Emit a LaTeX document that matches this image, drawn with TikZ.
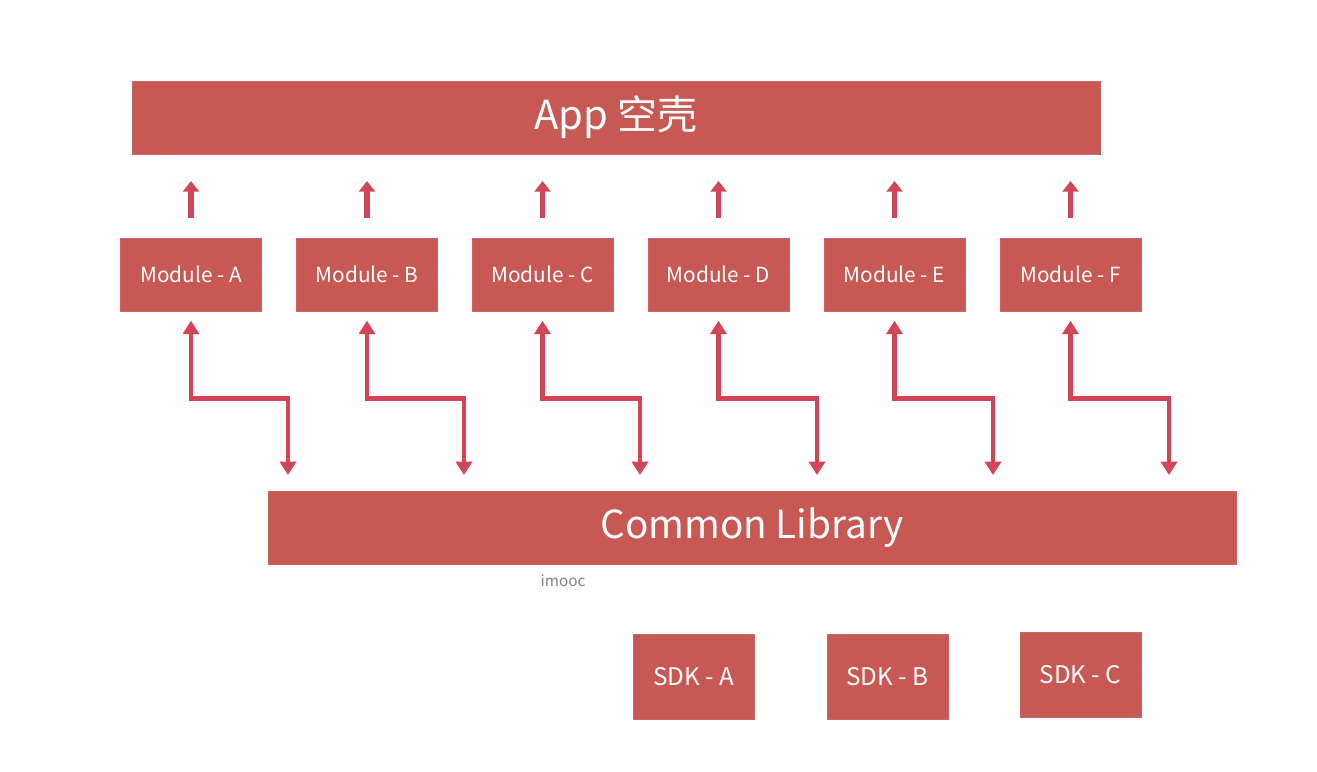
\documentclass[tikz,border=0pt]{standalone}
\usepackage{fontspec}
\setmainfont{Noto Sans CJK SC}
\usetikzlibrary{arrows.meta}
\definecolor{boxred}{RGB}{200,88,84}
\definecolor{boxedge}{RGB}{205,100,100}
\definecolor{arrred}{RGB}{210,68,88}
\definecolor{graytxt}{RGB}{130,130,130}
\tikzset{
  redbox/.style={fill=boxred, draw=boxedge, line width=0.6pt, text=white, inner sep=0pt, align=center},
  bigbox/.style={redbox, minimum width=726pt, minimum height=54.75pt, font=\fontsize{29}{32}\selectfont},
  modbox/.style={redbox, minimum width=105.75pt, minimum height=54.75pt, font=\fontsize{15.6}{18}\selectfont},
  sdkbox/.style={redbox, minimum width=90.75pt, minimum height=63.75pt, font=\fontsize{18.2}{20}\selectfont},
  uparr/.style={draw=arrred, line width=3.8pt, -{Triangle[width=12pt,length=8pt]}, shorten <=15pt, shorten >=20pt},
  biarr/.style={draw=arrred, line width=3.2pt, line join=miter, {Triangle[width=12pt,length=10pt]}-{Triangle[width=12pt,length=10pt]}, shorten <=7pt, shorten >=12pt}
}
\begin{document}
\begin{tikzpicture}[x=0.75pt,y=-0.75pt]
\useasboundingbox (0,0) rectangle (1317,771);
\node[bigbox, font=\fontsize{30}{33}\selectfont] (app) at (616,117.5) {App 空壳};
\node[modbox] (mA) at (191,274.5) {Module - A};
\node[modbox] (mB) at (367,274.5) {Module - B};
\node[modbox] (mC) at (542.5,274.5) {Module - C};
\node[modbox] (mD) at (718.5,274.5) {Module - D};
\node[modbox] (mE) at (894.5,274.5) {Module - E};
\node[modbox] (mF) at (1070.5,274.5) {Module - F};
\node[bigbox] (cl) at (752,527.5) {Common Library};
\node[text=graytxt, font=\fontsize{11.5}{13}\selectfont] (imooc) at (563,581) {imooc};
\node[sdkbox] (sA) at (693.5,676.5) {SDK - A};
\node[sdkbox] (sB) at (887.5,676.5) {SDK - B};
\node[sdkbox] (sC) at (1080.5,674.5) {SDK - C};
\foreach \m in {mA,mB,mC,mD,mE,mF}{
  \draw[uparr] (\m.north) -- (\m.north |- app.south);
}
\coordinate (tA) at (288,491);
\coordinate (tB) at (464,491);
\coordinate (tC) at (640,491);
\coordinate (tD) at (817,491);
\coordinate (tE) at (993,491);
\coordinate (tF) at (1169,491);
\draw[biarr] (mA.south) -- ++(0,87) -| (tA);
\draw[biarr] (mB.south) -- ++(0,87) -| (tB);
\draw[biarr] (mC.south) -- ++(0,87) -| (tC);
\draw[biarr] (mD.south) -- ++(0,87) -| (tD);
\draw[biarr] (mE.south) -- ++(0,87) -| (tE);
\draw[biarr] (mF.south) -- ++(0,87) -| (tF);
\end{tikzpicture}
\end{document}
